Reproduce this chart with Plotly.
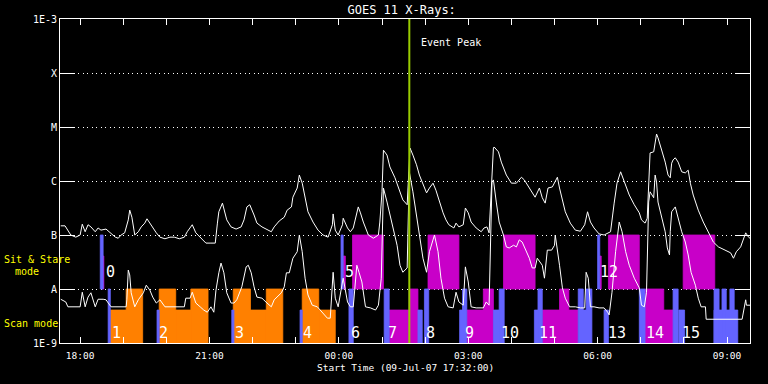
import pandas as pd
import plotly.graph_objects as go

START = pd.Timestamp("2007-07-09 17:32:00")
SPAN_MIN = 960

# GOES 11 long channel (upper curve): minutes since start, log10(flux W/m^2)
upper_min = [1, 7, 15, 22, 28, 31, 35, 39, 43, 49, 53, 57, 64, 70, 77, 81, 85, 90, 95, 97,
             100, 104, 109, 113, 118, 121, 125, 129, 134, 139, 146, 153, 159, 166, 173, 177, 184, 189, 196, 203,
             210, 216, 219, 221, 226, 228, 232, 238, 245, 252, 256, 260, 264, 270, 274, 281, 287, 294, 298, 305,
             312, 316, 322, 324, 330, 333, 337, 341, 345, 352, 359, 366, 373, 379, 380, 383, 387, 393, 394, 400,
             404, 408, 413, 415, 418, 422, 429, 436, 443, 445, 448, 450, 455, 459, 466, 473, 477, 483, 487, 491,
             496, 500, 505, 510, 514, 519, 523, 528, 533, 537, 541, 548, 551, 555, 561, 564, 568, 572, 579, 586,
             590, 594, 597, 603, 604, 610, 614, 621, 628, 635, 642, 646, 650, 657, 661, 667, 671, 675, 679, 685,
             689, 692, 695, 699, 703, 710, 717, 724, 730, 734, 738, 743, 750, 757, 762, 766, 771, 775, 780, 785,
             792, 799, 806, 809, 814, 817, 821, 826, 828, 830, 832, 837, 842, 846, 849, 851, 853, 856, 860, 865,
             870, 874, 877, 881, 888, 895, 902, 909, 916, 926, 933, 937, 941, 947, 951, 954, 958, 960]
upper_log = [-6.83, -6.83, -7.00, -7.04, -7.00, -6.80, -6.94, -6.81, -6.85, -6.94, -6.87, -6.91, -6.89, -6.96, -7.04, -7.06, -7.00, -6.96, -6.72, -6.54,
             -6.67, -7.00, -6.94, -6.85, -6.78, -6.70, -6.78, -6.87, -6.96, -7.04, -7.07, -7.04, -7.04, -7.07, -7.04, -6.94, -6.81, -6.96, -7.06, -7.15,
             -7.15, -7.15, -6.78, -6.57, -6.41, -6.50, -6.72, -6.85, -6.89, -6.85, -6.72, -6.48, -6.44, -6.63, -6.78, -6.85, -6.89, -6.94, -6.85, -6.74,
             -6.67, -6.54, -6.48, -6.30, -6.13, -5.89, -6.04, -6.31, -6.57, -6.76, -6.91, -7.00, -7.04, -6.81, -6.61, -6.91, -7.00, -6.81, -6.69, -6.87,
             -6.94, -6.87, -6.57, -6.48, -6.59, -6.76, -7.00, -7.06, -7.00, -6.76, -6.20, -5.43, -5.52, -5.74, -5.94, -6.20, -6.35, -6.44, -5.39, -5.52,
             -5.70, -5.89, -6.04, -6.22, -6.13, -6.04, -6.17, -6.39, -6.59, -6.72, -6.81, -6.87, -6.78, -6.85, -6.81, -6.50, -6.59, -6.76, -6.87, -6.94,
             -6.87, -6.85, -6.96, -5.39, -5.37, -5.46, -5.65, -5.89, -6.04, -6.04, -5.93, -5.98, -6.07, -6.20, -6.30, -6.13, -6.31, -6.41, -6.13, -6.11,
             -6.02, -5.93, -6.13, -6.35, -6.57, -6.78, -6.91, -6.93, -6.81, -6.57, -6.76, -6.87, -6.98, -7.00, -6.96, -6.94, -6.41, -6.04, -5.83, -6.02,
             -6.26, -6.44, -6.59, -6.72, -6.78, -6.69, -5.48, -5.46, -5.30, -5.13, -5.20, -5.43, -5.65, -5.89, -5.94, -5.67, -5.61, -5.57, -5.65, -5.83,
             -5.85, -5.80, -6.04, -6.26, -6.54, -6.76, -6.94, -7.13, -7.22, -7.28, -7.33, -7.43, -7.31, -7.22, -7.06, -6.96, -7.04, -7.06]

# GOES 11 short channel (lower curve)
lower_min = [1, 8, 11, 21, 28, 31, 35, 39, 43, 49, 53, 60, 64, 71, 92, 93, 95, 97, 99, 104,
             109, 116, 120, 125, 129, 134, 139, 146, 159, 173, 175, 181, 184, 189, 195, 200, 205, 210, 214, 217,
             221, 224, 228, 232, 238, 242, 246, 253, 259, 262, 266, 270, 274, 281, 288, 294, 298, 302, 308, 312,
             315, 319, 322, 324, 330, 333, 337, 341, 345, 351, 358, 365, 372, 376, 380, 383, 387, 393, 394, 400,
             404, 408, 413, 416, 420, 425, 432, 439, 443, 447, 450, 455, 459, 464, 469, 473, 477, 483, 486, 491,
             496, 500, 505, 510, 514, 521, 526, 530, 535, 540, 547, 551, 555, 561, 564, 568, 572, 579, 589, 593,
             597, 601, 603, 607, 611, 617, 621, 625, 631, 635, 639, 643, 647, 653, 657, 661, 664, 668, 671, 674,
             678, 684, 688, 689, 692, 695, 699, 703, 709, 717, 724, 730, 732, 735, 738, 743, 750, 757, 762, 764,
             768, 773, 778, 782, 787, 792, 799, 806, 809, 813, 816, 819, 821, 826, 828, 830, 832, 837, 842, 845,
             848, 849, 851, 856, 860, 865, 870, 874, 878, 884, 888, 892, 898, 899, 949, 954, 955, 960]
lower_log = [-8.19, -8.24, -8.33, -8.33, -8.33, -8.06, -8.33, -8.15, -8.07, -8.33, -8.19, -8.19, -8.20, -8.33, -8.33, -8.20, -7.65, -7.74, -8.07, -8.33,
             -8.20, -8.07, -7.93, -8.02, -8.15, -8.26, -8.20, -8.33, -8.33, -8.33, -8.17, -8.17, -8.06, -8.26, -8.33, -8.39, -8.43, -8.33, -8.43, -8.02,
             -7.70, -7.52, -7.70, -8.07, -8.26, -8.26, -8.20, -7.96, -7.59, -7.56, -7.70, -7.96, -8.15, -8.17, -8.26, -8.33, -8.20, -8.15, -8.07, -7.96,
             -7.70, -7.70, -7.50, -7.43, -7.31, -7.00, -7.31, -7.80, -8.11, -8.30, -8.33, -8.43, -8.54, -8.54, -7.69, -8.17, -8.33, -7.87, -7.80, -8.24,
             -8.33, -8.33, -7.56, -7.69, -7.87, -8.33, -8.35, -8.39, -8.30, -7.80, -6.13, -6.39, -6.63, -6.87, -7.19, -7.56, -7.69, -7.61, -5.83, -6.20,
             -6.63, -7.00, -7.43, -7.69, -7.31, -7.00, -7.31, -7.80, -8.17, -8.33, -8.35, -8.06, -8.24, -8.30, -7.59, -7.87, -8.33, -8.35, -8.35, -8.24,
             -8.30, -6.02, -5.98, -6.39, -6.76, -7.00, -7.22, -7.24, -7.19, -7.22, -7.09, -7.13, -7.24, -7.43, -7.61, -7.61, -7.43, -7.50, -7.56, -7.80,
             -7.28, -7.28, -7.19, -7.00, -7.24, -7.56, -7.98, -8.17, -8.33, -8.33, -8.35, -8.35, -7.69, -7.80, -8.33, -8.33, -8.35, -8.35, -8.43, -8.48,
             -8.06, -7.31, -6.76, -6.94, -7.31, -7.56, -7.80, -7.98, -8.30, -8.33, -8.06, -6.39, -6.20, -6.31, -5.89, -6.02, -6.39, -6.69, -6.94, -7.24,
             -7.37, -6.94, -6.57, -6.48, -6.69, -6.94, -7.13, -7.37, -7.69, -7.93, -8.17, -8.33, -8.33, -8.56, -8.56, -8.20, -8.30, -8.30]

# Observation blocks: (start min, end min, log10 lower flux, log10 upper flux)
blue_blocks = [(56, 60, -8, -7), (391, 394, -8, -7), (748, 751, -8, -7),
               (67, 70, -9, -8), (402, 408, -9, -8), (451, 458, -9, -8), (507, 513, -9, -8),
               (560, 566, -9, -8), (611, 618, -9, -8), (665, 671, -9, -8), (721, 728, -9, -8),
               (732, 740, -9, -8), (806, 814, -9, -8), (853, 860, -9, -8), (910, 917, -9, -8),
               (921, 927, -9, -8), (932, 938, -9, -8),
               (135, 138, -9, -8.39), (239, 242, -9, -8.39), (334, 337, -9, -8.39), (498, 504, -9, -8.39),
               (556, 560, -9, -8.39), (603, 611, -9, -8.39), (660, 665, -9, -8.39), (728, 732, -9, -8.39),
               (757, 763, -9, -8.39), (861, 869, -9, -8.39), (910, 943, -9, -8.39)]
magenta_blocks = [(58, 61, -8, -7.39), (394, 397, -8, -7.39), (751, 753, -8, -7.39),
                  (407, 450, -8, -7), (512, 555, -8, -7), (617, 661, -8, -7), (763, 806, -8, -7), (867, 911, -8, -7),
                  (486, 498, -9, -8), (589, 603, -9, -8), (695, 708, -9, -8), (814, 840, -9, -8),
                  (458, 486, -9, -8.39), (566, 589, -9, -8.39), (671, 695, -9, -8.39), (708, 721, -9, -8.39),
                  (840, 853, -9, -8.39)]
orange_blocks = [(92, 115, -9, -8), (138, 161, -9, -8), (182, 206, -9, -8), (241, 265, -9, -8),
                 (287, 310, -9, -8), (337, 360, -9, -8),
                 (70, 92, -9, -8.39), (161, 182, -9, -8.39), (265, 287, -9, -8.39), (360, 383, -9, -8.39)]

# Observation numbers: (label, start min, log10 flux position)
obs_labels = [("0", 61, -7.69), ("1", 70, -8.81), ("2", 135, -8.81), ("3", 241, -8.81),
              ("4", 335, -8.81), ("5", 394, -7.69), ("6", 402, -8.81), ("7", 454, -8.81),
              ("8", 507, -8.81), ("9", 560, -8.81), ("10", 611, -8.81), ("11", 664, -8.81),
              ("12", 749, -7.69), ("13", 759, -8.81), ("14", 813, -8.81), ("15", 863, -8.81)]

event_peak_min = 486
hour_ticks_min = [28 + 60 * k for k in range(16)]
hour_tick_text = ["18:00", "", "", "21:00", "", "", "00:00", "", "", "03:00", "", "", "06:00", "", "", "09:00"]
y_tick_vals = [1e-9, 1e-8, 1e-7, 1e-6, 1e-5, 1e-4, 1e-3]
y_tick_text = ["1E-9", "A", "B", "C", "M", "X", "1E-3"]


def t(m):
    return START + pd.to_timedelta(m, unit="min")


def blocks_trace(blocks, color):
    xs, ys = [], []
    for a, b, lo, hi in blocks:
        xs += [t(a), t(b), t(b), t(a), t(a), None]
        ys += [10 ** lo, 10 ** lo, 10 ** hi, 10 ** hi, 10 ** lo, None]
    return go.Scatter(x=xs, y=ys, mode="lines", fill="toself", fillcolor=color,
                      line=dict(width=0.8, color=color), hoverinfo="skip", showlegend=False)


MONO = "DejaVu Sans Mono"
fig = go.Figure()
fig.add_trace(blocks_trace(orange_blocks, "#FF8000"))
fig.add_trace(blocks_trace(magenta_blocks, "#C800C8"))
fig.add_trace(blocks_trace(blue_blocks, "#6464FF"))
fig.add_trace(go.Scatter(x=[t(m) for m in upper_min], y=[10 ** v for v in upper_log], mode="lines",
                         line=dict(color="white", width=1), showlegend=False, hoverinfo="skip"))
fig.add_trace(go.Scatter(x=[t(m) for m in lower_min], y=[10 ** v for v in lower_log], mode="lines",
                         line=dict(color="white", width=1), showlegend=False, hoverinfo="skip"))
fig.add_trace(go.Scatter(x=[t(event_peak_min), t(event_peak_min)], y=[1e-9, 1e-3], mode="lines",
                         line=dict(color="#99CC00", width=2), showlegend=False, hoverinfo="skip"))

annotations = []
for lab, m, lv in obs_labels:
    annotations.append(dict(x=t(m), y=lv, xref="x", yref="y", text=lab, showarrow=False,
                            xanchor="left", yanchor="middle", font=dict(family=MONO, size=15, color="white")))
annotations += [
    dict(x=t(event_peak_min + 14), y=0.926, xref="x", yref="paper", text="Event Peak", showarrow=False,
         xanchor="left", yanchor="middle", font=dict(family=MONO, size=10, color="white")),
    dict(x=-0.084, y=0.259, xref="paper", yref="paper", text="Sit & Stare", showarrow=False,
         xanchor="left", yanchor="middle", font=dict(family=MONO, size=10, color="#FFFF00")),
    dict(x=-0.068, y=0.222, xref="paper", yref="paper", text="mode", showarrow=False,
         xanchor="left", yanchor="middle", font=dict(family=MONO, size=10, color="#FFFF00")),
    dict(x=-0.084, y=0.059, xref="paper", yref="paper", text="Scan mode", showarrow=False,
         xanchor="left", yanchor="middle", font=dict(family=MONO, size=10, color="#FFFF00")),
    dict(x=0.5, y=-0.077, xref="paper", yref="paper", text="Start Time (09-Jul-07 17:32:00)", showarrow=False,
         xanchor="center", yanchor="middle", font=dict(family=MONO, size=9.5, color="white")),
]

fig.update_layout(
    width=768, height=384,
    margin=dict(l=60, r=18, t=19, b=41),
    paper_bgcolor="black", plot_bgcolor="black",
    title=dict(text="GOES 11 X-Rays:", x=0.523, xanchor="center", y=0.974, yanchor="middle",
               font=dict(family=MONO, size=12, color="white")),
    annotations=annotations,
    showlegend=False,
    hovermode=False,
)
fig.update_xaxes(
    type="date", range=[t(0), t(SPAN_MIN)],
    tickmode="array", tickvals=[t(m) for m in hour_ticks_min], ticktext=hour_tick_text,
    ticks="inside", ticklen=6, tickwidth=1, tickcolor="white",
    showline=True, linecolor="white", linewidth=1, mirror="ticks",
    showgrid=False, zeroline=False, ticklabelstandoff=4,
    tickfont=dict(family=MONO, size=9.5, color="white"),
)
fig.update_yaxes(
    type="log", range=[-9, -3],
    tickmode="array", tickvals=y_tick_vals, ticktext=y_tick_text,
    ticks="inside", ticklen=14, tickwidth=1, tickcolor="white",
    showline=True, linecolor="white", linewidth=1, mirror="ticks",
    showgrid=True, gridcolor="white", gridwidth=1, griddash="1px,3.5px",
    zeroline=False,
    tickfont=dict(family=MONO, size=10, color="white"),
)

fig.write_html("out.html", config=dict(displayModeBar=False),
               post_script="document.body.style.margin='0';document.body.style.background='black';")
